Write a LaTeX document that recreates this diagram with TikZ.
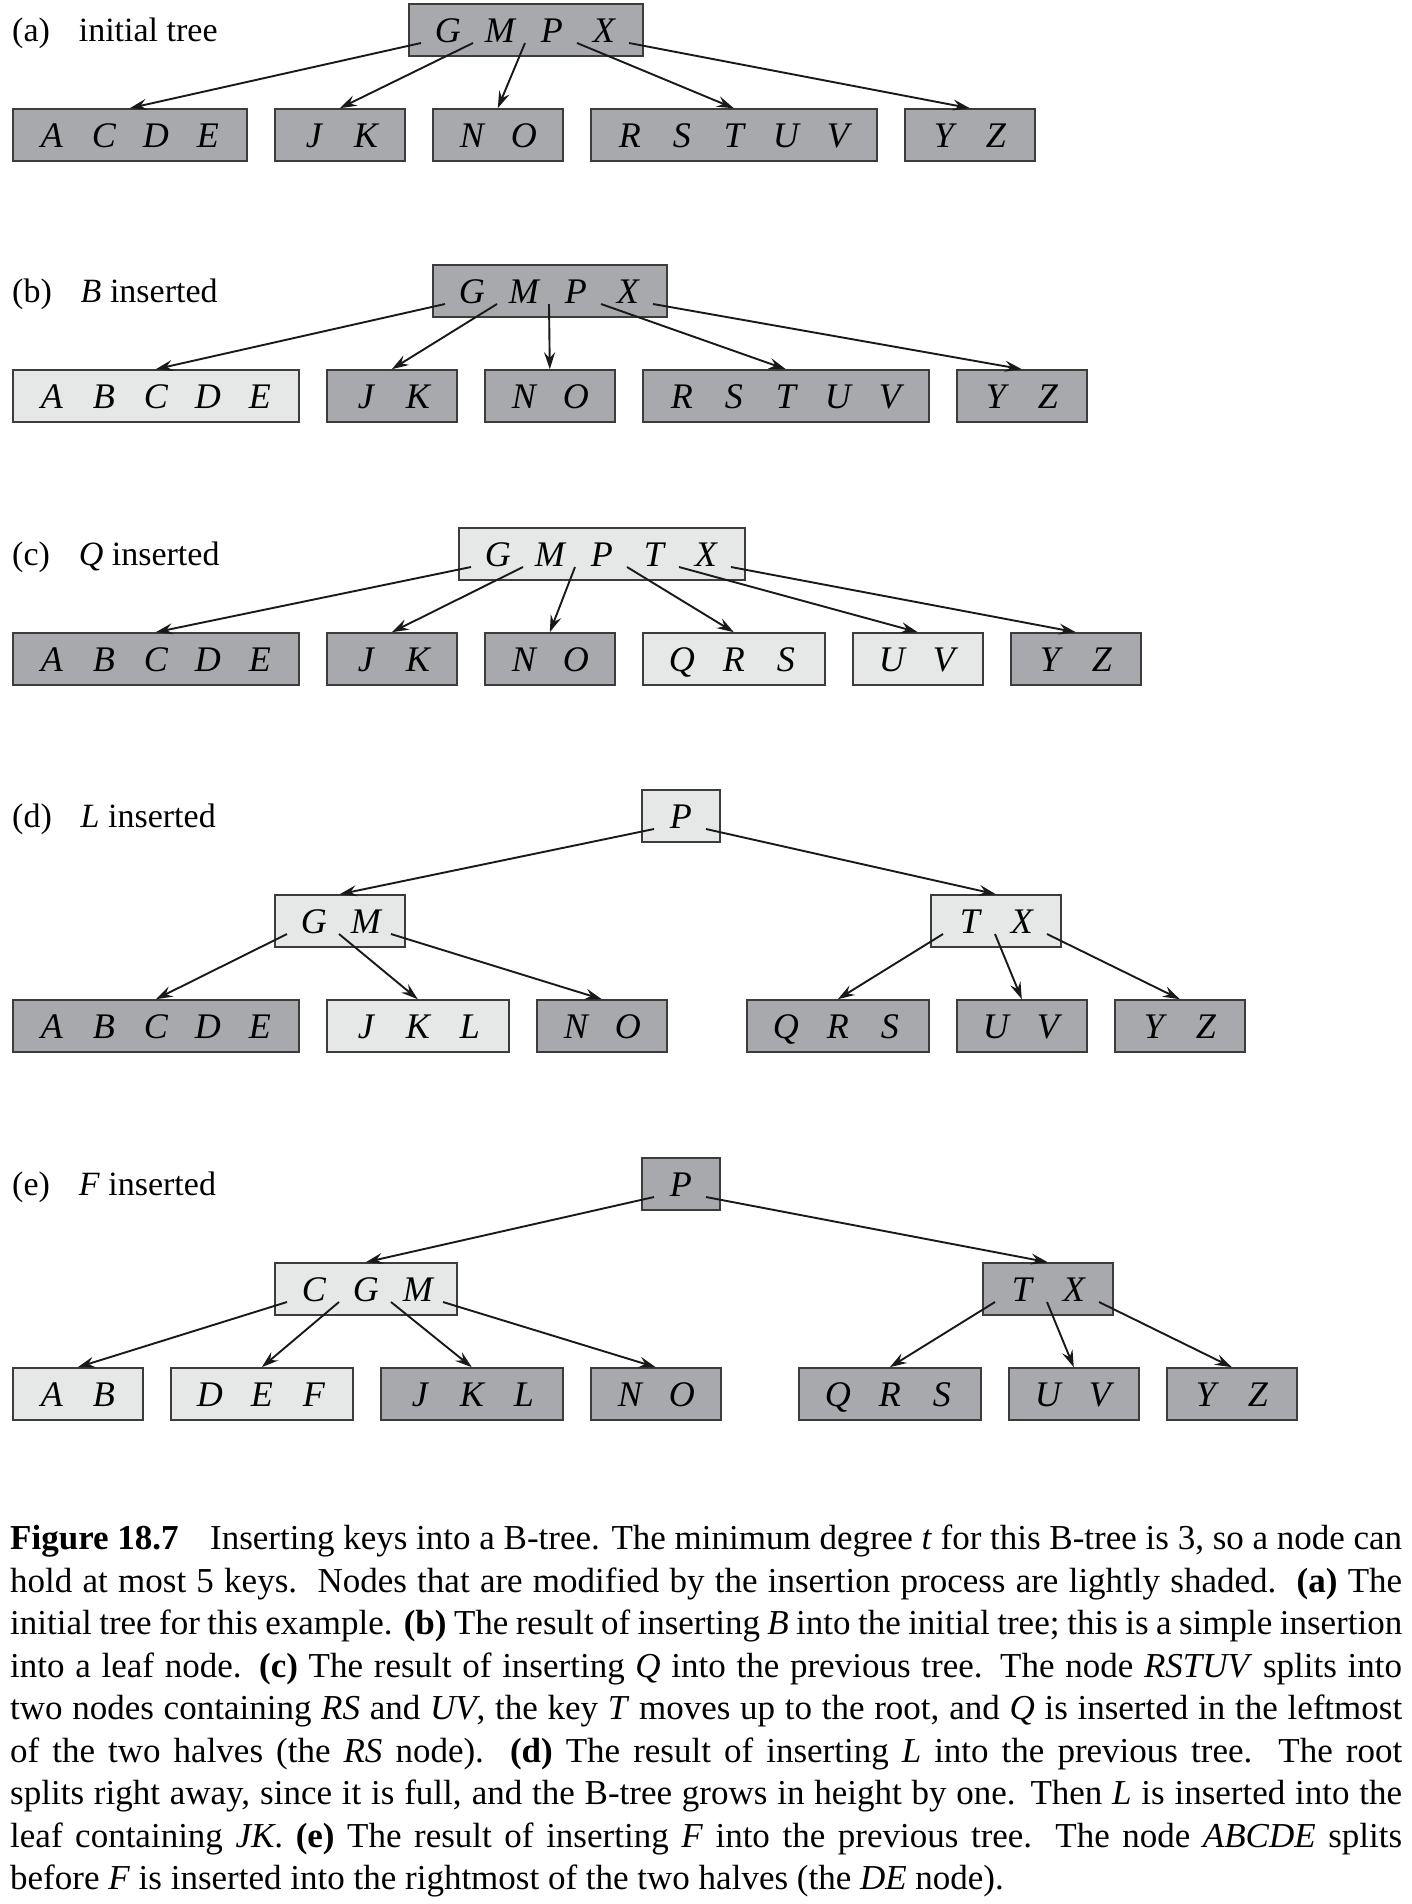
\documentclass[tikz,border=0pt]{standalone}
\usepackage{fontspec}
\setmainfont{Liberation Serif}
\usetikzlibrary{arrows.meta,calc}
\definecolor{dk}{RGB}{168,169,172}
\definecolor{lt}{RGB}{230,231,231}
\definecolor{bd}{RGB}{60,60,60}
\definecolor{ln}{RGB}{25,25,25}
\newcommand\kk[1]{\makebox[52pt]{#1}}
\newcommand\ptr[3]{\draw[ptr] ([xshift={13pt+52pt*#2},yshift=-13pt]#1.west) -- (#3.north);}
\newcommand\cl[1]{\hbox to 1392pt{#1}}
\begin{document}
\begin{tikzpicture}[x=1pt,y=-1pt,
 kb/.style={draw=bd, line width=1.6pt, anchor=west, inner xsep=13pt, inner ysep=0pt,
   minimum height=52pt, text height=24pt, text depth=0pt,
   font=\fontsize{36}{40}\selectfont\itshape},
 dkb/.style={kb, fill=dk},
 ltb/.style={kb, fill=lt},
 ptr/.style={draw=ln, line width=1.9pt, -{Stealth[length=17pt,width=11pt,inset=6pt]}},
 lab/.style={anchor=base west, inner sep=0pt, font=\fontsize{34}{40}\selectfont},
]
\path[fill=white,use as bounding box] (0,0) rectangle (1412,1904);

% (a)
\node[lab] (la) at (12,41) {(a)\hspace{0.85em}initial tree};
\node[dkb] (ar) at (408,30) {\kk{G}\kk{M}\kk{P}\kk{X}};
\node[dkb] (a1) at (12,135) {\kk{A}\kk{C}\kk{D}\kk{E}};
\node[dkb] (a2) at (274,135) {\kk{J}\kk{K}};
\node[dkb] (a3) at (432,135) {\kk{N}\kk{O}};
\node[dkb] (a4) at (590,135) {\kk{R}\kk{S}\kk{T}\kk{U}\kk{V}};
\node[dkb] (a5) at (904,135) {\kk{Y}\kk{Z}};
\ptr{ar}{0}{a1}\ptr{ar}{1}{a2}\ptr{ar}{2}{a3}\ptr{ar}{3}{a4}\ptr{ar}{4}{a5}

% (b)
\node[lab] (lb) at (12,302) {(b)\hspace{0.85em}\textit{B} inserted};
\node[dkb] (br) at (432,291) {\kk{G}\kk{M}\kk{P}\kk{X}};
\node[ltb] (b1) at (12,396) {\kk{A}\kk{B}\kk{C}\kk{D}\kk{E}};
\node[dkb] (b2) at (326,396) {\kk{J}\kk{K}};
\node[dkb] (b3) at (484,396) {\kk{N}\kk{O}};
\node[dkb] (b4) at (642,396) {\kk{R}\kk{S}\kk{T}\kk{U}\kk{V}};
\node[dkb] (b5) at (956,396) {\kk{Y}\kk{Z}};
\ptr{br}{0}{b1}\ptr{br}{1}{b2}\ptr{br}{2}{b3}\ptr{br}{3}{b4}\ptr{br}{4}{b5}

% (c)
\node[lab] (lc) at (12,565) {(c)\hspace{0.85em}\textit{Q} inserted};
\node[ltb] (cr) at (458,554) {\kk{G}\kk{M}\kk{P}\kk{T}\kk{X}};
\node[dkb] (c1) at (12,659) {\kk{A}\kk{B}\kk{C}\kk{D}\kk{E}};
\node[dkb] (c2) at (326,659) {\kk{J}\kk{K}};
\node[dkb] (c3) at (484,659) {\kk{N}\kk{O}};
\node[ltb] (c4) at (642,659) {\kk{Q}\kk{R}\kk{S}};
\node[ltb] (c5) at (852,659) {\kk{U}\kk{V}};
\node[dkb] (c6) at (1010,659) {\kk{Y}\kk{Z}};
\ptr{cr}{0}{c1}\ptr{cr}{1}{c2}\ptr{cr}{2}{c3}\ptr{cr}{3}{c4}\ptr{cr}{4}{c5}\ptr{cr}{5}{c6}

% (d)
\node[lab] (ld) at (12,827) {(d)\hspace{0.85em}\textit{L} inserted};
\node[ltb] (dr) at (641,816) {\kk{P}};
\node[ltb] (dm1) at (274,921) {\kk{G}\kk{M}};
\node[ltb] (dm2) at (930,921) {\kk{T}\kk{X}};
\node[dkb] (d1) at (12,1026) {\kk{A}\kk{B}\kk{C}\kk{D}\kk{E}};
\node[ltb] (d2) at (326,1026) {\kk{J}\kk{K}\kk{L}};
\node[dkb] (d3) at (536,1026) {\kk{N}\kk{O}};
\node[dkb] (d4) at (746,1026) {\kk{Q}\kk{R}\kk{S}};
\node[dkb] (d5) at (956,1026) {\kk{U}\kk{V}};
\node[dkb] (d6) at (1114,1026) {\kk{Y}\kk{Z}};
\ptr{dr}{0}{dm1}\ptr{dr}{1}{dm2}
\ptr{dm1}{0}{d1}\ptr{dm1}{1}{d2}\ptr{dm1}{2}{d3}
\ptr{dm2}{0}{d4}\ptr{dm2}{1}{d5}\ptr{dm2}{2}{d6}

% (e)
\node[lab] (le) at (12,1195) {(e)\hspace{0.85em}\textit{F} inserted};
\node[dkb] (er) at (641,1184) {\kk{P}};
\node[ltb] (em1) at (274,1289) {\kk{C}\kk{G}\kk{M}};
\node[dkb] (em2) at (982,1289) {\kk{T}\kk{X}};
\node[ltb] (e1) at (12,1394) {\kk{A}\kk{B}};
\node[ltb] (e2) at (170,1394) {\kk{D}\kk{E}\kk{F}};
\node[dkb] (e3) at (380,1394) {\kk{J}\kk{K}\kk{L}};
\node[dkb] (e4) at (590,1394) {\kk{N}\kk{O}};
\node[dkb] (e5) at (798,1394) {\kk{Q}\kk{R}\kk{S}};
\node[dkb] (e6) at (1008,1394) {\kk{U}\kk{V}};
\node[dkb] (e7) at (1166,1394) {\kk{Y}\kk{Z}};
\ptr{er}{0}{em1}\ptr{er}{1}{em2}
\ptr{em1}{0}{e1}\ptr{em1}{1}{e2}\ptr{em1}{2}{e3}\ptr{em1}{3}{e4}
\ptr{em2}{0}{e5}\ptr{em2}{1}{e6}\ptr{em2}{2}{e7}

% caption
\node[anchor=north west, inner sep=0pt, font=\fontsize{35}{42.5}\selectfont] (cap) at (10,1525) {\vbox{\baselineskip=42.5pt
\cl{\textbf{Figure 18.7}\hspace{0.9em}Inserting keys into a B-tree. The minimum degree \textit{t} for this B-tree is 3, so a node can}
\cl{hold at most 5 keys.\ \ Nodes that are modified by the insertion process are lightly shaded.\ \ \textbf{(a)} The}
\cl{initial tree for this example. \textbf{(b)} The result of inserting \textit{B} into the initial tree; this is a simple insertion}
\cl{into a leaf node. \textbf{(c)} The result of inserting \textit{Q} into the previous tree. The node \textit{RSTUV} splits into}
\cl{two nodes containing \textit{RS} and \textit{UV}, the key \textit{T} moves up to the root, and \textit{Q} is inserted in the leftmost}
\cl{of the two halves (the \textit{RS} node).\ \ \textbf{(d)} The result of inserting \textit{L} into the previous tree.\ \ The root}
\cl{splits right away, since it is full, and the B-tree grows in height by one. Then \textit{L} is inserted into the}
\cl{leaf containing \textit{JK}. \textbf{(e)} The result of inserting \textit{F} into the previous tree. The node \textit{ABCDE} splits}
\cl{before \textit{F} is inserted into the rightmost of the two halves (the \textit{DE} node).\hfil}
}};
\end{tikzpicture}
\end{document}
